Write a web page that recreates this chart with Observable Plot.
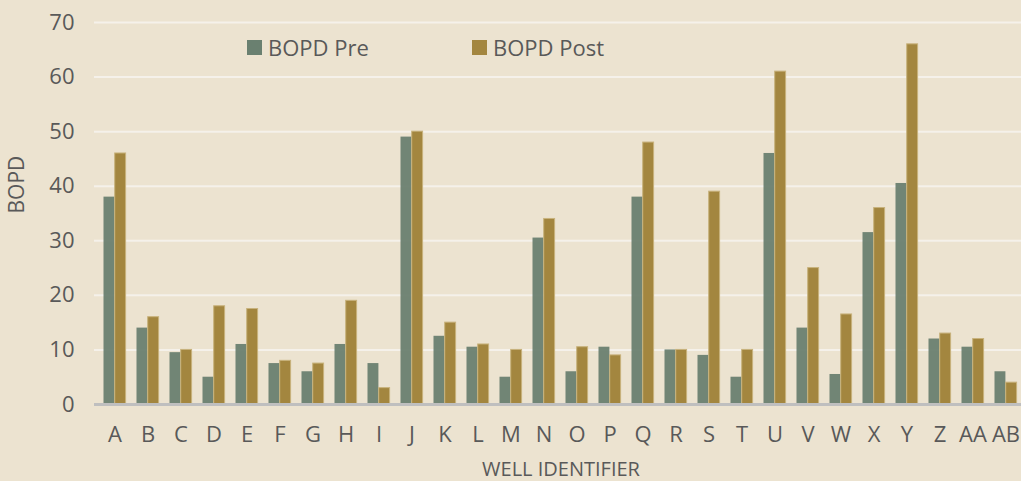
<!DOCTYPE html>
<html>
<head>
<meta charset="utf-8">
<script src="https://cdn.jsdelivr.net/npm/d3@7"></script>
<script src="https://cdn.jsdelivr.net/npm/@observablehq/plot@0.6"></script>
<style>
  html, body { margin: 0; padding: 0; background: #ece3d0; }
  #wrap { position: relative; width: 1021px; height: 481px; overflow: hidden; font-family: "Open Sans", sans-serif; }
  #legend { position: absolute; left: 0; top: 0; width: 100%; height: 0; color: #595959; font-size: 22px; }
  .item { position: absolute; top: 32px; display: flex; align-items: center; white-space: nowrap; }
  .sw { display: inline-block; width: 15px; height: 15px; margin-right: 6px; }
</style>
</head>
<body>
<div id="wrap">
  <div id="chart"></div>
  <div id="legend"></div>
</div>
<script>
const wells = ["A","B","C","D","E","F","G","H","I","J","K","L","M","N","O","P","Q","R","S","T","U","V","W","X","Y","Z","AA","AB"];
const bopdPre  = [38, 14, 9.5, 5, 11, 7.5, 6, 11, 7.5, 49, 12.5, 10.5, 5, 30.5, 6, 10.5, 38, 10, 9, 5, 46, 14, 5.5, 31.5, 40.5, 12, 10.5, 6];
const bopdPost = [46, 16, 10, 18, 17.5, 8, 7.5, 19, 3, 50, 15, 11, 10, 34, 10.5, 9, 48, 10, 39, 10, 61, 25, 16.5, 36, 66, 13, 12, 4];
const yTicks = [0, 10, 20, 30, 40, 50, 60, 70];
const seriesNames = ["BOPD Pre", "BOPD Post"];
const seriesColors = ["#6a8070", "#a3863f"];

const preData = wells.map((w, i) => ({well: w, value: bopdPre[i]}));
const postData = wells.map((w, i) => ({well: w, value: bopdPost[i]}));

const chart = Plot.plot({
  width: 1021,
  height: 481,
  marginTop: 22,
  marginBottom: 77,
  marginLeft: 94,
  marginRight: 0,
  style: {background: "#ece3d0", color: "#595959", fontFamily: "'Open Sans', sans-serif", fontSize: "22px", overflow: "hidden"},
  x: {domain: wells, range: [94.5, 1026], padding: 0, tickSize: 0, tickPadding: 22, label: null},
  y: {domain: [0, 70], ticks: yTicks, tickSize: 0, tickPadding: 20, label: null, tickFormat: d => String(d)},
  marks: [
    Plot.ruleY(yTicks.filter(d => d > 0), {stroke: "#f5f1ea", strokeWidth: 2}),
    Plot.barY(preData, {x: "well", y: "value", fill: seriesColors[0], insetLeft: 5.5, insetRight: 16.6, fillOpacity: 0.95}),
    Plot.barY(postData, {x: "well", y: "value", fill: seriesColors[1], stroke: "#c8b27c", strokeWidth: 1, insetLeft: 16.7, insetRight: 5.4}),
    Plot.ruleY([0], {stroke: "#bfbfbf", strokeWidth: 3}),
    Plot.text(["BOPD"], {frameAnchor: "left", rotate: -90, dx: -77, dy: 0, fontSize: 21, fill: "#595959"}),
    Plot.text(["WELL IDENTIFIER"], {frameAnchor: "bottom", lineAnchor: "middle", dx: 3, dy: 65, fontSize: 20, fill: "#595959"})
  ]
});
document.getElementById("chart").appendChild(chart);

const legend = document.getElementById("legend");
const legendLeft = [247, 472];
seriesNames.forEach((name, i) => {
  const item = document.createElement("div");
  item.className = "item";
  item.style.left = legendLeft[i] + "px";
  const sw = document.createElement("span");
  sw.className = "sw";
  sw.style.background = seriesColors[i];
  item.appendChild(sw);
  item.appendChild(document.createTextNode(name));
  legend.appendChild(item);
});
</script>
</body>
</html>
